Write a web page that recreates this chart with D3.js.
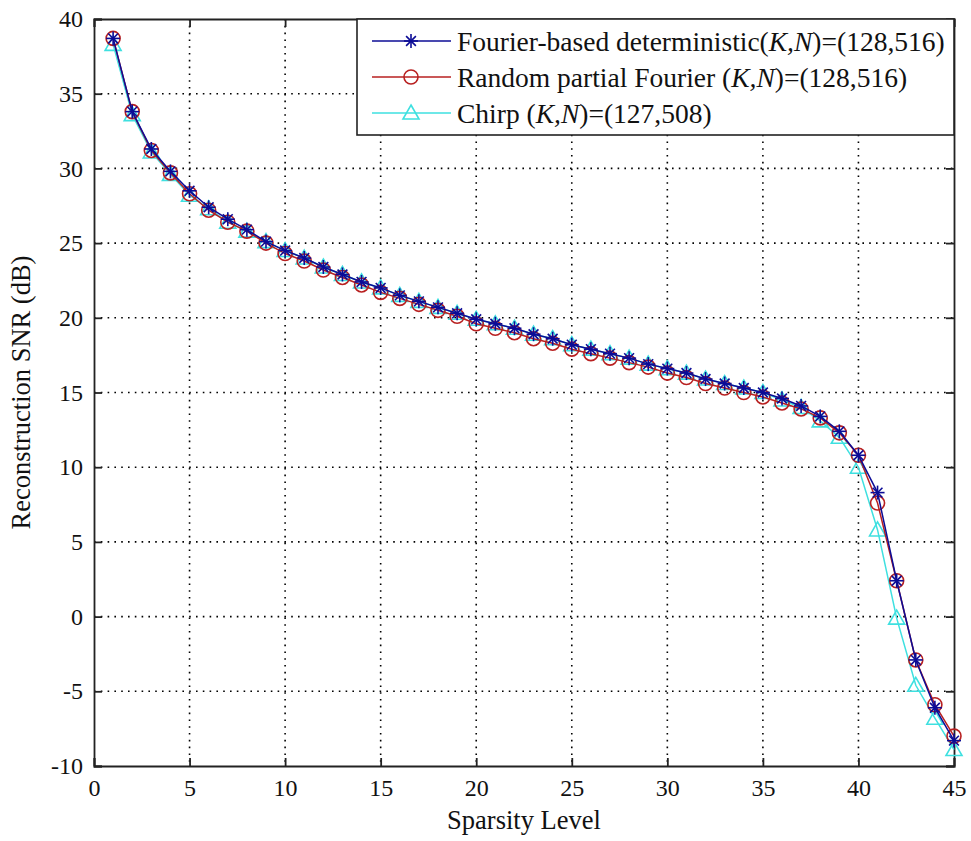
<!DOCTYPE html>
<html>
<head>
<meta charset="utf-8">
<script src="https://cdn.jsdelivr.net/npm/d3@7"></script>
<style>
  body { margin: 0; background: #fff; }
  svg { display: block; }
  text { font-family: "Liberation Serif", "Times New Roman", serif; fill: #111; }
</style>
</head>
<body>
<svg id="chart" width="971" height="841"></svg>
<script>
const sparsity = d3.range(1, 46);
const fourierDet = [38.7,33.8,31.3,29.8,28.5,27.4,26.6,25.9,25.1,24.5,24.0,23.4,22.9,22.4,22.0,21.5,21.1,20.7,20.3,19.9,19.6,19.3,18.9,18.6,18.2,17.9,17.6,17.3,16.9,16.6,16.3,15.9,15.6,15.3,15.0,14.6,14.1,13.4,12.4,10.8,8.3,2.4,-2.9,-6.1,-8.3];
const randomPartial = [38.7,33.8,31.2,29.7,28.3,27.2,26.4,25.8,25.0,24.3,23.8,23.2,22.7,22.2,21.7,21.3,20.9,20.5,20.1,19.6,19.3,19.0,18.6,18.3,17.9,17.6,17.3,17.0,16.7,16.3,16.0,15.6,15.3,15.0,14.7,14.3,13.9,13.3,12.3,10.8,7.6,2.4,-2.9,-5.9,-8.0];
const chirp = [38.3,33.6,31.1,29.6,28.2,27.3,26.4,25.8,25.1,24.5,24.0,23.4,22.9,22.4,22.0,21.5,21.1,20.7,20.3,19.9,19.6,19.3,18.9,18.6,18.2,17.9,17.6,17.3,16.9,16.6,16.3,15.9,15.6,15.3,15.0,14.5,14.0,13.1,12.0,10.0,5.8,-0.1,-4.6,-6.8,-8.9];
const xTicks = [0,5,10,15,20,25,30,35,40,45];
const yTicks = [-10,-5,0,5,10,15,20,25,30,35,40];
const seriesNames = ["Fourier-based deterministic", "Random partial Fourier ", "Chirp "];
const seriesTails = ["=(128,516)", "=(128,516)", "=(127,508)"];

const svg = d3.select("#chart");
const L = 94, R = 954, T = 19, B = 766;
const x = d3.scaleLinear().domain([0,45]).range([L,R]);
const y = d3.scaleLinear().domain([-10,40]).range([B,T]);

// grid
const grid = svg.append("g");
xTicks.slice(1,-1).forEach(t => grid.append("line").attr("x1", x(t)).attr("x2", x(t)).attr("y1", T).attr("y2", B)
  .attr("stroke", "#000").attr("stroke-width", 1.6).attr("stroke-dasharray", "1.6,5.2"));
yTicks.slice(1,-1).forEach(t => grid.append("line").attr("y1", y(t)).attr("y2", y(t)).attr("x1", L).attr("x2", R)
  .attr("stroke", "#000").attr("stroke-width", 1.6).attr("stroke-dasharray", "1.6,5.2"));

// axes
const tickLen = 8;
const fmt = d => String(d);
const xAx = svg.append("g").attr("transform", `translate(0,${B})`)
  .call(d3.axisBottom(x).tickValues(xTicks).tickSize(-tickLen).tickPadding(13).tickFormat(fmt));
const xAxT = svg.append("g").attr("transform", `translate(0,${T})`)
  .call(d3.axisTop(x).tickValues(xTicks).tickSize(-tickLen).tickFormat(""));
const yAx = svg.append("g").attr("transform", `translate(${L},0)`)
  .call(d3.axisLeft(y).tickValues(yTicks).tickSize(-tickLen).tickPadding(11).tickFormat(fmt));
const yAxR = svg.append("g").attr("transform", `translate(${R},0)`)
  .call(d3.axisRight(y).tickValues(yTicks).tickSize(-tickLen).tickFormat(""));
[xAx, xAxT, yAx, yAxR].forEach(g => {
  g.select(".domain").attr("stroke", "#222").attr("stroke-width", 1.8);
  g.selectAll(".tick line").attr("stroke", "#222").attr("stroke-width", 1.8);
  g.selectAll("text").attr("font-size", 24).attr("fill", "#111");
});
xAx.selectAll(".tick text").attr("dy", "0.71em");

// labels
svg.append("text").attr("x", (L+R)/2).attr("y", 829).attr("text-anchor", "middle")
  .attr("font-size", 26.5).text("Sparsity Level");
svg.append("text").attr("transform", `translate(30,${(T+B)/2}) rotate(-90)`).attr("text-anchor", "middle")
  .attr("font-size", 26.5).text("Reconstruction SNR (dB)");

const colors = ["#0c0c96", "#b82020", "#3ee0e0"];
const line = d3.line().x((d,i) => x(sparsity[i])).y(d => y(d));
const datasets = [fourierDet, randomPartial, chirp];

function star(g, cx, cy, c) {
  const s = 7;
  const p = g.append("g").attr("transform", `translate(${cx},${cy})`).attr("stroke", c).attr("stroke-width", 1.6);
  p.append("line").attr("x1", 0).attr("x2", 0).attr("y1", -s).attr("y2", s);
  p.append("line").attr("x1", -s).attr("x2", s).attr("y1", 0).attr("y2", 0);
  p.append("line").attr("x1", -s*0.7).attr("x2", s*0.7).attr("y1", -s*0.7).attr("y2", s*0.7);
  p.append("line").attr("x1", -s*0.7).attr("x2", s*0.7).attr("y1", s*0.7).attr("y2", -s*0.7);
}
function circ(g, cx, cy, c) {
  g.append("circle").attr("cx", cx).attr("cy", cy).attr("r", 7).attr("fill", "none").attr("stroke", c).attr("stroke-width", 1.6);
}
function tri(g, cx, cy, c) {
  const s = 8;
  g.append("path").attr("d", `M${cx},${cy-s}L${cx+s},${cy+s*0.75}L${cx-s},${cy+s*0.75}Z`)
    .attr("fill", "none").attr("stroke", c).attr("stroke-width", 1.6);
}
const markers = [star, circ, tri];

[2,1,0].forEach(k => {
  const g = svg.append("g");
  g.append("path").datum(datasets[k]).attr("d", line).attr("fill", "none")
    .attr("stroke", colors[k]).attr("stroke-width", 1.5);
  datasets[k].forEach((v,i) => markers[k](g, x(sparsity[i]), y(v), colors[k]));
});

// legend
const lg = svg.append("g");
lg.append("rect").attr("x", 357).attr("y", T).attr("width", R-357).attr("height", 116)
  .attr("fill", "#fff").attr("stroke", "#222").attr("stroke-width", 1.6);
const rowY = [41, 77, 113];
seriesNames.forEach((n,k) => {
  lg.append("line").attr("x1", 372).attr("x2", 451).attr("y1", rowY[k]).attr("y2", rowY[k])
    .attr("stroke", colors[k]).attr("stroke-width", 1.6);
  markers[k](lg, 411, rowY[k], colors[k]);
  const t = lg.append("text").attr("x", 457).attr("y", rowY[k]).attr("dy", "0.35em").attr("font-size", 27.5);
  t.append("tspan").text(n + "(");
  t.append("tspan").attr("font-style", "italic").text("K,N");
  t.append("tspan").text(")" + seriesTails[k]);
});
</script>
</body>
</html>
